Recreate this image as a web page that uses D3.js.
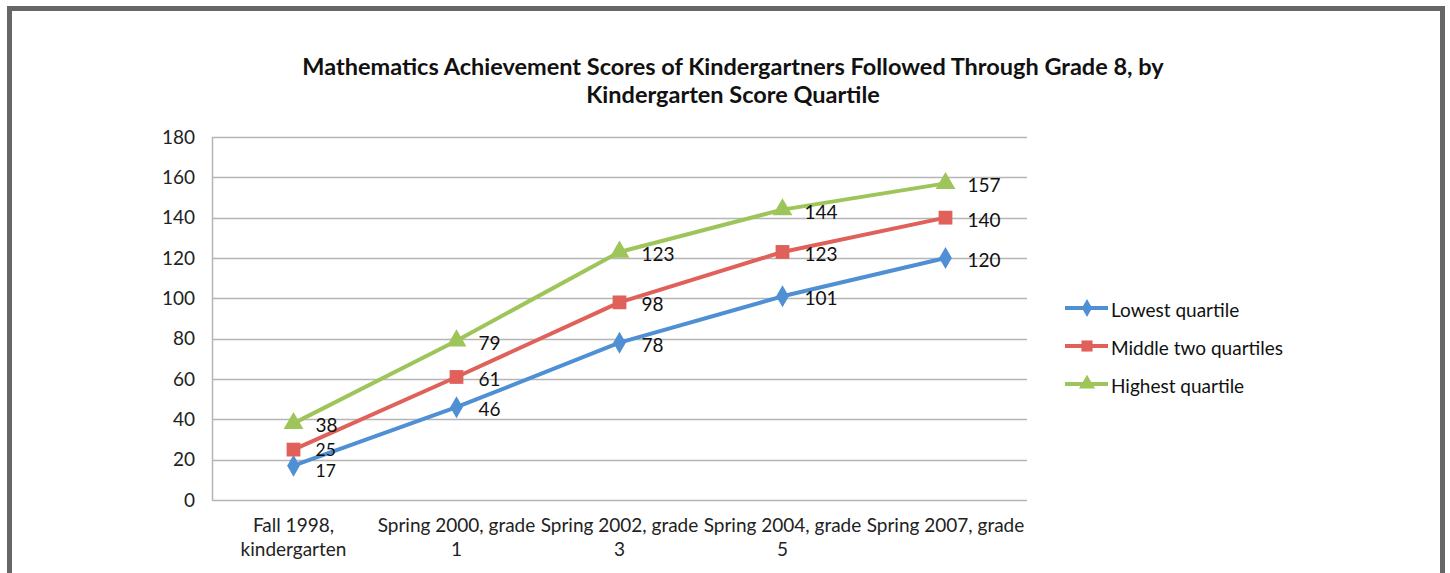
<!DOCTYPE html>
<html><head><meta charset="utf-8">
<script src="https://cdn.jsdelivr.net/npm/d3@7"></script>
<style>body{margin:0;background:#fff}svg{display:block}</style>
</head><body>
<svg id="c" width="1450" height="573"></svg>
<script>
const categories = [["Fall 1998,","kindergarten"],["Spring 2000, grade","1"],["Spring 2002, grade","3"],["Spring 2004, grade","5"],["Spring 2007, grade",""]];
const seriesNames = ["Lowest quartile","Middle two quartiles","Highest quartile"];
const lowest = [17,46,78,101,120];
const middle = [25,61,98,123,140];
const highest = [38,79,123,144,157];
const yTicks = [0,20,40,60,80,100,120,140,160,180];
const titleLines = ["Mathematics Achievement Scores of Kindergartners Followed Through Grade 8, by","Kindergarten Score Quartile"];
const colors = ["#4f8fd4","#e0605a","#9dc55a"];
const markers = [d3.symbolDiamond, d3.symbolSquare, d3.symbolTriangle];
const markerSizes = [140, 190, 170];
const font = "Lato, 'Open Sans', sans-serif";
const fs = 19;

const svg = d3.select("#c");
svg.append("rect").attr("x",9.5).attr("y",8.5).attr("width",1433).attr("height",620)
  .attr("fill","#fff").attr("stroke","#666").attr("stroke-width",5);

const x = d3.scalePoint().domain(d3.range(categories.length)).range([212,1027]).padding(0.5);
const y = d3.scaleLinear().domain([0,180]).range([500,137]);

// title
const t = svg.append("g");
titleLines.forEach((l,i)=>{
  t.append("text").attr("x",733).attr("y",66+i*28).attr("text-anchor","middle").attr("dominant-baseline","central")
   .attr("font-family",font).attr("font-weight","bold").attr("font-size",23.5).attr("fill","#111").text(l);
});

// gridlines
svg.append("g").selectAll("line").data(yTicks).join("line")
  .attr("x1",212).attr("x2",1027).attr("y1",d=>Math.round(y(d))+0.5).attr("y2",d=>Math.round(y(d))+0.5)
  .attr("stroke","#b5b5b5").attr("stroke-width",1.5);
svg.append("line").attr("x1",212.5).attr("x2",212.5).attr("y1",y(180)).attr("y2",y(0))
  .attr("stroke","#b5b5b5").attr("stroke-width",1.5);

// y axis labels
const yAxis = d3.axisLeft(y).tickValues(yTicks).tickSize(0).tickPadding(17);
const ya = svg.append("g").attr("transform","translate(212,0)").call(yAxis);
ya.select(".domain").remove();
ya.selectAll("text").attr("font-family",font).attr("font-size",fs).attr("fill","#222");

// x labels
const xg = svg.append("g");
categories.forEach((c,i)=>{
  c.forEach((l,j)=>{
    xg.append("text").attr("x",x(i)).attr("y",524+j*24).attr("text-anchor","middle").attr("dominant-baseline","central")
      .attr("font-family",font).attr("font-size",fs).attr("fill","#222").text(l);
  });
});

const allSeries = [lowest, middle, highest];
const line = d3.line().x((d,i)=>x(i)).y(d=>y(d));
allSeries.forEach((s,k)=>{
  svg.append("path").datum(s).attr("d",line).attr("fill","none").attr("stroke",colors[k])
    .attr("stroke-width",4).attr("stroke-linejoin","round");
});
// label nudges only for the crowded first category (lowest down, middle up)
const nudge = [3, -2, 0];
allSeries.forEach((s,k)=>{
  svg.append("g").selectAll("path").data(s).join("path")
    .attr("d",d3.symbol(markers[k],markerSizes[k]))
    .attr("transform",(d,i)=>`translate(${x(i)},${y(d)})`).attr("fill",colors[k]);
  svg.append("g").selectAll("text").data(s).join("text")
    .attr("x",(d,i)=>x(i)+22).attr("y",(d,i)=>y(d)+1.5+(i===0?nudge[k]:0)).attr("dominant-baseline","central")
    .attr("font-family",font).attr("font-size",(d,i)=>i===0&&k<2?17.5:fs).attr("fill","#111").text(d=>d);
});

// legend
seriesNames.forEach((n,k)=>{
  const ly = 308 + k*38;
  svg.append("line").attr("x1",1065).attr("x2",1108).attr("y1",ly).attr("y2",ly)
    .attr("stroke",colors[k]).attr("stroke-width",4);
  svg.append("path").attr("d",d3.symbol(markers[k],markerSizes[k]*0.65))
    .attr("transform",`translate(1087,${ly})`).attr("fill",colors[k]);
  svg.append("text").attr("x",1111).attr("y",ly+1).attr("dominant-baseline","central")
    .attr("font-family",font).attr("font-size",fs).attr("fill","#111").text(n);
});
</script>
</body></html>
